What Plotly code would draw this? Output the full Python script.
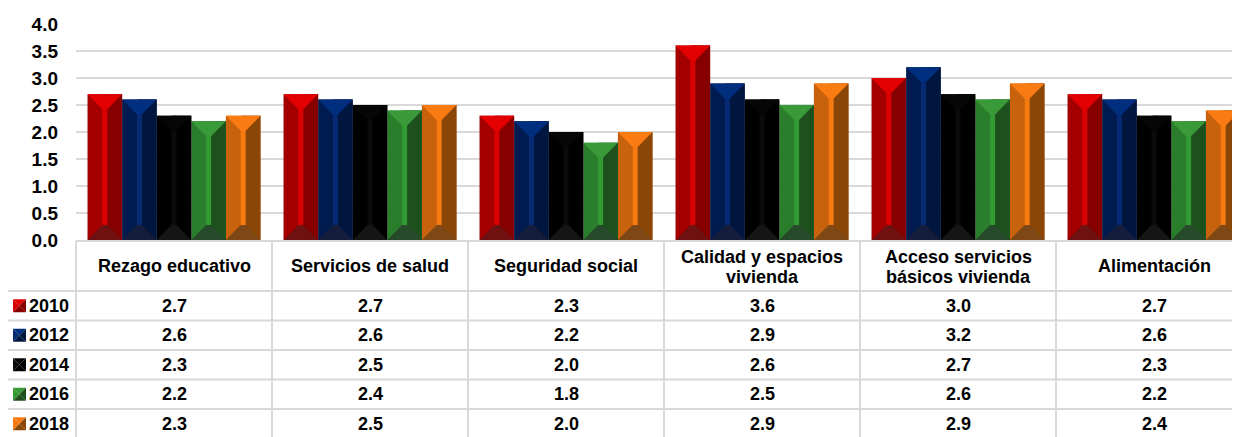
import plotly.graph_objects as go

# ---------------- data ----------------
categories = ["Rezago educativo", "Servicios de salud", "Seguridad social",
              "Calidad y espacios<br>vivienda", "Acceso servicios<br>básicos vivienda",
              "Alimentación"]
years = ["2010", "2012", "2014", "2016", "2018"]
v2010 = [2.7, 2.7, 2.3, 3.6, 3.0, 2.7]
v2012 = [2.6, 2.6, 2.2, 2.9, 3.2, 2.6]
v2014 = [2.3, 2.5, 2.0, 2.6, 2.7, 2.3]
v2016 = [2.2, 2.4, 1.8, 2.5, 2.6, 2.2]
v2018 = [2.3, 2.5, 2.0, 2.9, 2.9, 2.4]
series = [v2010, v2012, v2014, v2016, v2018]

# bevel colours: (left face, right face, stripe, top, bottom)
palette = [
    ("#A50000", "#870000", "#D80000", "#E30000", "#6F1111"),
    ("#001B50", "#00163F", "#062A73", "#002F7F", "#141E3C"),
    ("#000000", "#000000", "#0B0B0B", "#060606", "#151515"),
    ("#2A7D2A", "#1D501D", "#339A33", "#3A9A3A", "#274A2A"),
    ("#C9620C", "#8A4607", "#F57A10", "#FB7B13", "#7D4716"),
]

# ---------------- layout geometry (page pixels, page has 8px body margin) ----------------
OFF = 8
W, H = 1240 - OFF, 437 - OFF
L_PAGE, T_PAGE, BOT_PAGE = 76, 24, 240
L, T = L_PAGE - OFF, T_PAGE - OFF
PW = W - L
PH = BOT_PAGE - T_PAGE
CAT_PX = 196.0
YMAX = 4.0
xr = [-0.5, -0.5 + PW / CAT_PX]
px_per_y = PH / YMAX

def px_x(p):
    return (p - L_PAGE) / PW

def px_y(p):
    return (BOT_PAGE - p) / PH

def data_to_paper_x(v):
    return (v - xr[0]) / (xr[1] - xr[0])

n_ser = len(series)
w = 0.1765
bevel = 15 / px_per_y
half_stripe = 2.5 / CAT_PX

FONT = "Liberation Sans, Arial, sans-serif"

fig = go.Figure()

# base bars
for j, (yr, vals) in enumerate(zip(years, series)):
    xs = [i + (j - (n_ser - 1) / 2) * w for i in range(len(vals))]
    fig.add_trace(go.Bar(x=xs, y=vals, width=w, name=yr,
                         marker=dict(color=palette[j][0], line=dict(width=0)),
                         showlegend=False, hoverinfo="x+y"))

# bevel decoration polygons derived from the data
def poly_trace(xs, ys, color):
    return go.Scatter(x=xs, y=ys, mode="lines", fill="toself", fillcolor=color,
                      line=dict(width=0, color=color), hoverinfo="skip",
                      showlegend=False)

for j, vals in enumerate(series):
    left, right, stripe, top, bottom = palette[j]
    rx, ry, sx, sy, tx, ty, bx, by = [], [], [], [], [], [], [], []
    for i, v in enumerate(vals):
        xc = i + (j - (n_ser - 1) / 2) * w
        xl, xrr = xc - w / 2, xc + w / 2
        rx += [xc, xrr, xrr, xc, xc, None]
        ry += [0, 0, v, v, 0, None]
        sx += [xc - half_stripe, xc + half_stripe, xc + half_stripe, xc - half_stripe, xc - half_stripe, None]
        sy += [0, 0, v, v, 0, None]
        tx += [xl, xrr, xc + half_stripe, xc - half_stripe, xl, None]
        ty += [v, v, v - bevel, v - bevel, v, None]
        bx += [xl, xrr, xc + half_stripe, xc - half_stripe, xl, None]
        by += [0, 0, bevel, bevel, 0, None]
    fig.add_trace(poly_trace(rx, ry, right))
    fig.add_trace(poly_trace(sx, sy, stripe))
    fig.add_trace(poly_trace(tx, ty, top))
    fig.add_trace(poly_trace(bx, by, bottom))

# ---------------- table ----------------
GRID = "#D9D9D9"
shapes = []
header_top = 241
row_lines = [291, 320.5, 350, 379.5, 409]
row_centers = [305.7, 335.2, 364.7, 394.2, 423.7]

shapes.append(dict(type="line", xref="paper", yref="paper",
                   x0=0, x1=1.02, y0=px_y(header_top), y1=px_y(header_top),
                   line=dict(color=GRID, width=2)))
for yl in row_lines:
    shapes.append(dict(type="line", xref="paper", yref="paper",
                       x0=px_x(7), x1=1.02, y0=px_y(yl), y1=px_y(yl),
                       line=dict(color=GRID, width=2)))
shapes.append(dict(type="line", xref="paper", yref="paper",
                   x0=px_x(7), x1=px_x(7), y0=px_y(291), y1=px_y(445),
                   line=dict(color=GRID, width=2)))
for i in range(len(categories)):
    xp = data_to_paper_x(i - 0.5)
    shapes.append(dict(type="line", xref="paper", yref="paper",
                       x0=xp, x1=xp, y0=px_y(header_top), y1=px_y(445),
                       line=dict(color=GRID, width=2)))

TXT = dict(family=FONT, size=18, color="#000000", weight="bold")
annotations = []
for i, c in enumerate(categories):
    lines = c.split("<br>")
    if len(lines) == 1:
        ys = [266]
    else:
        ys = [256.5, 277]
    for ln, yl in zip(lines, ys):
        annotations.append(dict(x=i, xref="x", y=px_y(yl), yref="paper", text=ln,
                                showarrow=False, xanchor="center", yanchor="middle",
                                font=TXT, align="center"))
for j, (yr, vals) in enumerate(zip(years, series)):
    yc = row_centers[j]
    for i, v in enumerate(vals):
        annotations.append(dict(x=i, xref="x", y=px_y(yc), yref="paper",
                                text=f"{v:.1f}", showarrow=False,
                                xanchor="center", yanchor="middle", font=TXT))
    annotations.append(dict(x=px_x(27), xref="paper", y=px_y(yc), yref="paper",
                            text=yr, showarrow=False, xanchor="left", yanchor="middle",
                            font=TXT))
    # legend key (mini bevel: light upper-left, dark lower-right)
    left, right, stripe, top, bottom = palette[j]
    k0, k1 = px_x(13), px_x(26)
    kt, kb = px_y(yc - 6.5), px_y(yc + 6.5)
    kcx, kcy = (k0 + k1) / 2, (kt + kb) / 2
    tri = [
        ([(k0, kt), (k1, kt), (kcx, kcy)], top),
        ([(k0, kt), (k0, kb), (kcx, kcy)], stripe),
        ([(k1, kt), (k1, kb), (kcx, kcy)], right),
        ([(k0, kb), (k1, kb), (kcx, kcy)], right),
    ]
    for pts, col in tri:
        path = "M " + " L ".join(f"{a},{b}" for a, b in pts) + " Z"
        shapes.append(dict(type="path", xref="paper", yref="paper", path=path,
                           fillcolor=col, line=dict(width=0)))

fig.update_layout(
    width=W, height=H,
    margin=dict(l=L, r=0, t=T, b=H - (BOT_PAGE - OFF), pad=0),
    paper_bgcolor="white", plot_bgcolor="white",
    barmode="overlay",
    showlegend=False,
    shapes=shapes,
    annotations=annotations,
    xaxis=dict(range=xr, showticklabels=False, showgrid=False, zeroline=False,
               showline=False, ticks=""),
    yaxis=dict(range=[0, YMAX], dtick=0.5, tick0=0, tickformat=".1f",
               showgrid=True, gridcolor=GRID, gridwidth=2, zeroline=False,
               showline=False, ticks="", ticklabelstandoff=17,
               tickfont=dict(family=FONT, size=19, color="#000000", weight="bold")),
)

fig.write_html("out.html")
